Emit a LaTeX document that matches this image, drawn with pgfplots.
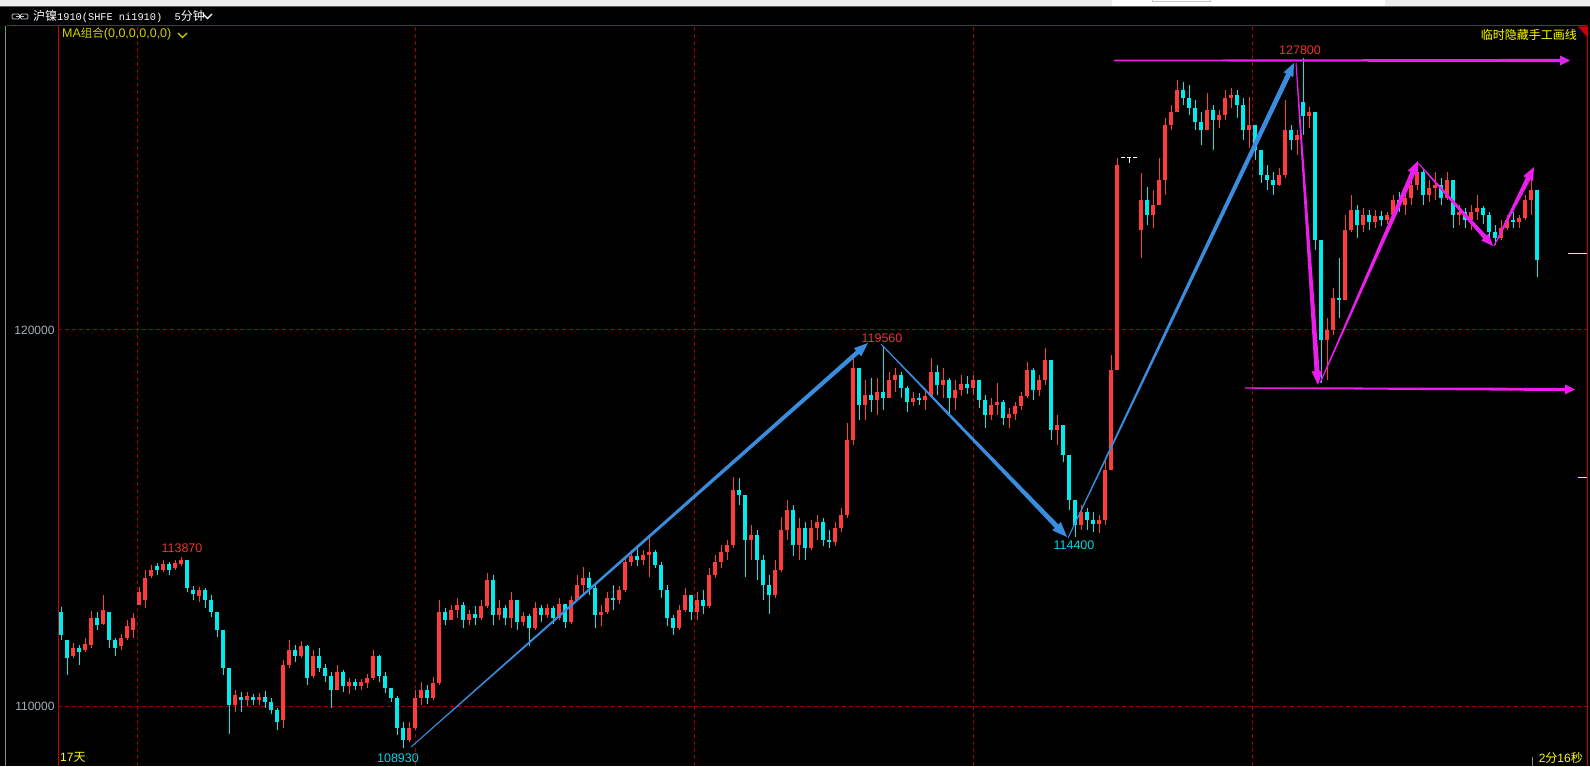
\documentclass[border=0pt]{standalone}
\usepackage{pgfplots}
\pgfplotsset{compat=1.18}
\usepackage{pgfplotstable}
\usetikzlibrary{calc}
\usepackage{fontspec}
\setmainfont{Liberation Sans}
\newfontfamily\cjk{Noto Sans CJK SC}
\newfontfamily\mono{Liberation Mono}
\definecolor{gridred}{RGB}{160,0,0}
\definecolor{axred}{RGB}{205,0,0}
\definecolor{tickgray}{RGB}{165,175,185}
\definecolor{myblue}{RGB}{58,140,222}
\definecolor{mymag}{RGB}{236,30,236}
\definecolor{yel}{RGB}{255,255,0}
\definecolor{olivey}{RGB}{210,210,0}
\definecolor{lblred}{RGB}{240,50,50}
\definecolor{lblcyan}{RGB}{0,215,225}
\definecolor{chrome}{RGB}{236,236,236}
\definecolor{chromeline}{RGB}{95,95,95}
\definecolor{leftgray}{RGB}{135,135,135}
\definecolor{icongray}{RGB}{200,200,200}
% columns: open high low close, u = 1 up (red), 0 down (cyan), 2 flat (white)
% price scale: plotted as 1000*ln(price/100000) (logarithmic price axis)
\pgfplotstableread{
o h l c u
112420 112550 111690 111820 0
111690 111690 110790 111230 0
111280 111620 111230 111490 1
111490 111560 111050 111380 0
111440 111740 111380 111590 1
111560 112450 111490 112260 1
112260 112420 111950 112080 0
112110 112860 112080 112470 1
112420 112420 111490 111690 0
111690 111740 111280 111490 0
111540 111850 111440 111740 1
111740 112210 111690 112060 1
111950 112390 111740 112260 1
112600 113070 112600 112940 1
112730 113520 112520 113310 1
113360 113650 113310 113520 1
113620 113700 113390 113520 0
113520 113780 113460 113680 1
113680 113730 113390 113520 0
113570 113780 113520 113700 1
113680 113870 113620 113780 1
113780 113780 112940 113050 0
112990 113100 112730 112890 0
112840 113070 112680 112990 1
112990 113050 112520 112730 0
112730 112860 112290 112420 0
112420 112420 111770 111950 0
111950 111950 110790 110970 0
110970 110970 109290 110030 0
110030 110410 109850 110280 1
110230 110360 109850 110150 0
110150 110360 110000 110260 1
110230 110310 110030 110150 0
110150 110330 110030 110230 1
110230 110380 109950 110100 0
110100 110200 109800 109900 0
109900 109950 109390 109590 0
109650 111180 109440 111050 1
111050 111690 110970 111440 1
111440 111560 111130 111280 0
111280 111670 111230 111540 1
111540 111560 110540 110720 0
110770 111440 110720 111280 1
111280 111490 110870 110970 0
110970 111080 110610 110770 0
110770 110870 109950 110410 0
110410 111050 110410 110870 1
110870 110920 110360 110510 0
110510 110720 110310 110610 1
110610 110690 110410 110510 0
110510 110690 110410 110610 1
110590 110820 110460 110720 1
110720 111440 110660 111280 1
111280 111310 110610 110770 0
110770 110870 110330 110460 0
110460 110460 110100 110200 0
110200 110260 109260 109440 0
109440 109590 108930 109140 0
109140 109590 109090 109440 1
109440 110410 109390 110200 1
110200 110610 110030 110410 1
110410 110540 110050 110200 0
110200 110740 110150 110590 1
110590 112730 110540 112420 1
112420 112520 112080 112210 0
112210 112600 112210 112470 1
112470 112780 112260 112600 1
112600 112680 112000 112210 0
112210 112470 112080 112370 1
112370 112580 112080 112260 0
112260 112730 112210 112580 1
112580 113440 112520 113260 1
113260 113390 112080 112340 0
112340 112730 112210 112520 1
112520 112600 112080 112260 0
112260 112940 112000 112730 1
112730 112730 111950 112160 0
112160 112420 112060 112320 1
112320 112370 111540 112000 0
112000 112680 111950 112520 1
112520 112600 112160 112340 0
112340 112630 112260 112520 1
112520 112580 112110 112260 0
112260 112780 112210 112630 1
112630 112630 112000 112160 0
112160 112840 112110 112730 1
112730 113390 112730 113120 1
113120 113600 112860 113310 1
113310 113460 112860 113050 0
113050 113120 112000 112340 0
112340 112600 112060 112420 1
112420 112940 112370 112780 1
112780 113120 112470 112730 0
112730 113100 112630 112990 1
112990 113890 112940 113730 1
113730 114040 113620 113890 1
113890 114100 113620 113780 0
113780 114040 113650 113910 1
113910 114360 113330 113990 1
113990 114040 113570 113650 0
113650 113730 112780 112990 0
112990 113120 112060 112260 0
112260 112340 111820 112000 0
112000 112600 111950 112470 1
112470 113050 112420 112860 1
112860 112860 112210 112420 0
112420 112940 112210 112730 1
112730 112990 112370 112580 0
112580 113570 112520 113390 1
113390 113910 113310 113730 1
113730 114180 113570 113990 1
113990 114310 113780 114180 1
114180 115990 114100 115640 1
115640 115960 115240 115500 0
115500 115500 113330 114310 0
114310 114710 113780 114440 1
114440 114570 113260 113780 0
113780 113910 112730 113120 0
113120 113390 112370 112860 0
112860 113780 112780 113520 1
113520 114920 113460 114570 1
114570 115370 114310 115100 1
115100 115240 113890 114180 0
114180 114890 113780 114630 1
114630 114790 113780 114100 0
114100 114840 114040 114630 1
114630 114970 114310 114790 1
114790 114890 114150 114310 0
114310 114570 114100 114260 0
114260 114790 114150 114630 1
114630 115160 114520 114970 1
114970 117450 114890 116980 1
116980 119310 116850 118950 1
118950 118950 117530 117940 0
117940 118620 117530 118210 1
118210 118670 117750 118070 0
118070 118670 117660 118290 1
118290 119560 117800 118130 0
118130 118840 118130 118620 1
118620 118950 118290 118760 1
118760 118840 118130 118400 0
118400 118460 117750 118020 0
118020 118290 117910 118130 1
118130 118260 117940 118070 0
118070 118320 117800 118180 1
118180 119230 118130 118840 1
118840 119030 118210 118480 0
118480 118950 118130 118620 1
118620 118670 117660 118130 0
118130 118620 117800 118340 1
118340 118760 118180 118510 1
118510 118730 118240 118400 0
118400 118760 118210 118620 1
118620 118620 117850 118070 0
118070 118210 117310 117660 0
117660 118130 117530 117940 1
117940 118540 117660 118020 1
118020 118070 117390 117580 0
117580 117850 117310 117690 1
117690 118020 117530 117910 1
117910 118290 117800 118180 1
118180 119120 118130 118890 1
118890 118950 118070 118340 0
118340 118760 118180 118620 1
118620 119500 118480 119170 1
119170 119170 116980 117260 0
117260 117660 116850 117390 1
117390 117390 116390 116580 0
116580 116580 115100 115370 0
115370 115370 114400 114710 0
114710 115240 114570 115050 1
115050 115160 114570 114840 0
114840 115050 114520 114730 0
114730 114970 114490 114840 1
114840 116500 114710 116180 1
116180 119310 116180 118890 1
118890 124870 118890 124670 1
124870 124870 124870 124870 2
124870 124870 124730 124870 2
124870 124870 124870 124870 2
122810 124440 122020 123670 1
123670 124040 122950 123240 0
123240 123950 122870 123520 1
123520 124870 123520 124240 1
124240 126030 123810 125830 1
125830 126410 125680 126210 1
126210 127150 126210 126850 1
126850 127090 126410 126620 0
126620 127000 126120 126330 0
126330 126560 125680 125920 0
125920 126210 125250 125680 0
125680 126770 125680 126270 1
126270 126410 125100 125980 0
125980 126270 125740 126120 1
126120 126850 125980 126620 1
126620 126910 126330 126710 1
126710 126850 126030 126410 0
126410 126620 125390 125680 0
125680 126650 125160 125830 1
125830 125830 124820 125100 0
125100 125100 124150 124380 0
124380 124670 123950 124240 0
124240 124470 123810 124100 0
124100 124580 124070 124380 1
124380 126560 124300 125680 1
125680 125830 125100 125390 0
125390 125680 124960 125540 1
126500 127800 125540 126100 0
126100 126360 125740 126210 1
126210 126210 122240 122530 0
122530 122530 118540 119720 0
119720 120330 118620 120000 1
120000 121170 119860 120890 1
120890 122020 120330 120840 0
120840 123240 120840 122810 1
122810 123810 122750 123380 1
123380 123520 122580 122950 0
122950 123440 122750 123240 1
123240 123380 122810 123040 0
123040 123380 122870 123210 1
123210 123350 122920 123090 0
123090 123320 122980 123240 1
123240 123810 123090 123670 1
123670 123890 123320 123520 0
123520 123890 123240 123720 1
123720 124240 123520 124100 1
124100 124640 123950 124470 1
124470 124530 123520 123810 0
123810 124240 123610 124010 1
124010 124470 123670 124100 1
124100 124300 123520 123720 0
123720 124470 123670 124240 1
124240 124240 122870 123240 0
123240 123520 122950 123320 1
123320 123440 122870 123090 0
123090 123520 122810 123320 1
123320 123810 123090 123440 1
123440 123490 122980 123240 0
123240 123320 122470 122750 0
122750 122950 122380 122580 0
122580 123090 122530 122870 1
122870 123240 122810 123090 1
123090 123320 122870 123040 0
123040 123240 122870 123150 1
123150 123810 123090 123670 1
123670 124300 123240 123950 1
123950 123950 121480 121960 0
}\candles
\newcommand\taper[7]{%
  \coordinate (tpH) at ($(#3)!#7!(#2)$);
  \fill[#1] ($(#2)!#4!90:(#3)$) -- ($(tpH)!#5!90:(#3)$) -- ($(tpH)!#6!90:(#3)$) -- (#3)
     -- ($(tpH)!#6!-90:(#3)$) -- ($(tpH)!#5!-90:(#3)$) -- ($(#2)!#4!-90:(#3)$) -- cycle;}
\begin{document}
\begin{tikzpicture}
\useasboundingbox (0pt,0pt) rectangle (1590pt,766pt);
\begin{scope}[x=1pt,y=1pt]
\fill[black] (0,0) rectangle (1590,766);
\fill[chrome] (0,759) rectangle (1590,766);
\fill[white] (1112,759) rectangle (1385,766);
\draw[icongray, line width=0.8pt] (1152,766.5) -- (1152,764.5) -- (1210,764.5) -- (1210,766.5);
\draw[chromeline, line width=1pt] (0,759) -- (1590,759);
\end{scope}
\begin{axis}[at={(58pt,0pt)}, anchor=south west, scale only axis,
  width=1529pt, height=740pt, xmin=58, xmax=1587,
  ymin=81.426, ymax=252.671,
  axis line style={draw=none},
  xtick={137,415.5,694.5,973.5,1252.5}, xticklabels={,,,,},
  ytick={95.310,182.322}, yticklabels={110000,120000},
  major tick length=0pt, grid=major,
  major grid style={gridred, dash pattern=on 4pt off 3pt, line width=1pt},
  yticklabel style={font=\fontsize{12}{12}\selectfont, text=tickgray},
  colormap={cand}{rgb255=(0,235,235) rgb255=(255,60,60) rgb255=(255,255,255)},
  point meta min=0, point meta max=2]
% wicks: low to high
\addplot[line width=1pt, point meta=explicit,
  quiver={u=0, v={1000*ln(\thisrow{h}/\thisrow{l})}, colored}]
  table[x expr=\coordindex*6+61, y expr={1000*ln(\thisrow{l}/100000)}, meta=u] {\candles};
% bodies: open to close
\addplot[line width=3.2pt, point meta=explicit,
  quiver={u=0, v={max(1000*abs(ln(\thisrow{c}/\thisrow{o})),0.3)}, colored}]
  table[x expr=\coordindex*6+61, y expr={1000*ln(min(\thisrow{o},\thisrow{c})/100000)}, meta=u] {\candles};
\coordinate (b1s) at (axis cs:411,85.823);
\coordinate (b1t) at (axis cs:868,179.313);
\coordinate (b2s) at (axis cs:881,179.082);
\coordinate (b2t) at (axis cs:1067,134.419);
\coordinate (b3s) at (axis cs:1068,134.188);
\coordinate (b3t) at (axis cs:1294,244.109);
\coordinate (m0s) at (axis cs:1114,244.687);
\coordinate (m0t) at (axis cs:1570,244.687);
\coordinate (m1s) at (axis cs:1296,244.109);
\coordinate (m1t) at (axis cs:1318,169.594);
\coordinate (m2s) at (axis cs:1320,170.059);
\coordinate (m2t) at (axis cs:1418,221.430);
\coordinate (m3s) at (axis cs:1418,220.967);
\coordinate (m3t) at (axis cs:1493,201.760);
\coordinate (m4s) at (axis cs:1494,201.760);
\coordinate (m4t) at (axis cs:1534,220.042);
\coordinate (m5s) at (axis cs:1245,168.900);
\coordinate (m5t) at (axis cs:1575,168.553);
\end{axis}
\taper{myblue}{b1s}{b1t}{0.5pt}{2.2pt}{5.5pt}{14pt}
\taper{myblue}{b2s}{b2t}{0.5pt}{2.5pt}{6pt}{15pt}
\taper{myblue}{b3s}{b3t}{0.5pt}{2.5pt}{5.5pt}{13pt}
\taper{mymag}{m0s}{m0t}{0.8pt}{1.6pt}{5pt}{10pt}
\taper{mymag}{m1s}{m1t}{0.5pt}{2.5pt}{5.5pt}{14pt}
\taper{mymag}{m2s}{m2t}{0.5pt}{2.5pt}{5.5pt}{13pt}
\taper{mymag}{m3s}{m3t}{0.5pt}{2.2pt}{5pt}{12pt}
\taper{mymag}{m4s}{m4t}{0.5pt}{2.5pt}{5.5pt}{13pt}
\taper{mymag}{m5s}{m5t}{0.7pt}{1.6pt}{5pt}{10pt}
\begin{scope}[x=1pt,y=1pt]
\draw[axred, line width=1pt] (7,740) -- (1587,740);
\draw[axred, line width=1pt] (58,740) -- (58,0);
\draw[axred, line width=1pt] (1587,740) -- (1587,0);
\fill[axred] (1578,739.5) -- (1587,739.5) -- (1587,729) -- cycle;
\draw[leftgray, line width=1pt] (5.5,740) -- (5.5,0);
\draw[yel, line width=1pt] (1568,512) -- (1587,512);
\draw[yel, line width=1pt] (1578,288) -- (1587,288);
\draw[leftgray, line width=1pt] (1532,9) -- (1532,0);
\draw[icongray, line width=0.9pt, rounded corners=1.2pt] (12,747) rectangle (19.5,752);
\draw[icongray, line width=0.9pt, rounded corners=1.2pt] (20.5,747) rectangle (28,752);
\draw[icongray, line width=0.9pt] (16,749.5) -- (24,749.5);
\node[anchor=west, inner sep=0pt, text=white] at (33,749) {{\cjk\fontsize{12}{12}\selectfont 沪镍}{\mono\fontsize{10.3}{11}\selectfont 1910(SHFE ni1910)\ \ 5}{\cjk\fontsize{12}{12}\selectfont 分钟}};
\draw[white, line width=1.1pt] (203,752) -- (207.5,747.5) -- (212,752);
\node[anchor=west, inner sep=0pt, text=olivey] at (62,732) {\fontsize{12.5}{13}\selectfont MA{\cjk\fontsize{11.5}{12}\selectfont 组合}(0,0,0,0,0,0)};
\draw[olivey, line width=1.1pt] (178,733) -- (182.5,728.5) -- (187,733);
\node[anchor=east, inner sep=0pt, text=yel] at (1577,731) {\cjk\fontsize{12}{12}\selectfont 临时隐藏手工画线};
\node[anchor=west, inner sep=0pt, text=yel] at (60,9) {\fontsize{12}{12}\selectfont 17{\cjk 天}};
\node[anchor=east, inner sep=0pt, text=yel] at (1583,8.5) {\fontsize{12}{12}\selectfont 2{\cjk 分}16{\cjk 秒}};
\node[text=lblred, font=\fontsize{12.5}{13}\selectfont] at (182,218) {113870};
\node[text=lblred, font=\fontsize{12.5}{13}\selectfont] at (882,428) {119560};
\node[text=lblred, font=\fontsize{12.5}{13}\selectfont] at (1300,715.5) {127800};
\node[text=lblcyan, font=\fontsize{12.5}{13}\selectfont] at (398,8) {108930};
\node[text=lblcyan, font=\fontsize{12.5}{13}\selectfont] at (1074,221) {114400};
\end{scope}
\end{tikzpicture}
\end{document}
